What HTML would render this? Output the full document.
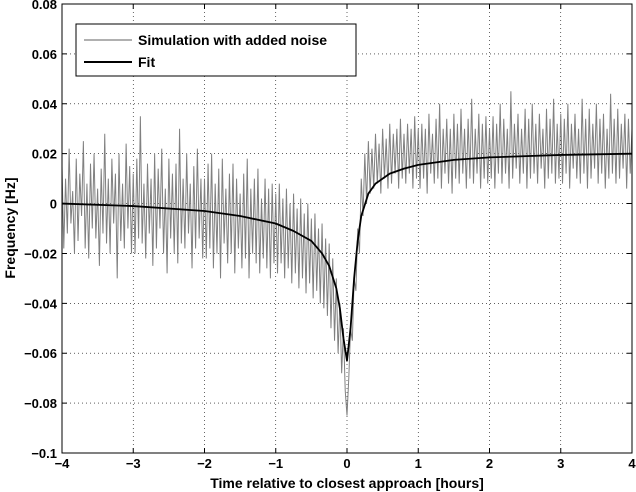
<!DOCTYPE html>
<html><head><meta charset="utf-8"><style>
body{margin:0;background:#fff}
svg{display:block;font-family:"Liberation Sans",Arial,sans-serif;font-weight:bold}
</style></head><body>
<svg id="chart" width="636" height="492" viewBox="0 0 636 492" xmlns="http://www.w3.org/2000/svg">
<rect x="0" y="0" width="636" height="492" fill="#fff"/>
<g id="grid"></g>
<g id="series"></g>
<rect x="62" y="4" width="570" height="449" fill="none" stroke="#000" stroke-width="1"/>
<g id="axes"></g>
<text x="347" y="488" font-size="14" text-anchor="middle">Time relative to closest approach [hours]</text>
<text transform="translate(15,228) rotate(-90)" font-size="14" text-anchor="middle">Frequency [Hz]</text>
<g>
<rect x="76" y="24" width="280" height="52" fill="#fff" stroke="#000" stroke-width="1"/>
<line x1="84" y1="40" x2="132" y2="40" stroke="#808080" stroke-width="1.2"/>
<text x="138" y="45" font-size="14">Simulation with added noise</text>
<line x1="84" y1="62" x2="132" y2="62" stroke="#000" stroke-width="2"/>
<text x="138" y="67" font-size="14">Fit</text>
</g>
</svg>
<script>
const xTicks=[-4,-3,-2,-1,0,1,2,3,4];
const xTickLabels=["\u22124","\u22123","\u22122","\u22121","0","1","2","3","4"];
const yTicks=[-0.1,-0.08,-0.06,-0.04,-0.02,0,0.02,0.04,0.06,0.08];
const yTickLabels=["\u22120.1","\u22120.08","\u22120.06","\u22120.04","\u22120.02","0","0.02","0.04","0.06","0.08"];
const fitT=[-4,-3,-2,-1.5,-1,-0.75,-0.5,-0.35,-0.25,-0.15,-0.1,-0.05,0,0.05,0.1,0.15,0.2,0.3,0.4,0.6,0.8,1,1.5,2,3,4];
const fitV=[0,-0.001,-0.003,-0.005,-0.008,-0.011,-0.015,-0.02,-0.025,-0.034,-0.042,-0.054,-0.063,-0.05,-0.03,-0.015,-0.005,0.004,0.008,0.012,0.014,0.0155,0.0175,0.0185,0.0195,0.02];
const noiseStart=-4, noiseStep=0.025;
const noiseV=[
0.015,-0.018,0.01,-0.012,0.022,-0.008,0.005,-0.02,0.018,-0.015,0.012,-0.005,0.025,-0.018,0.008,-0.022,0.016,-0.01,0.02,-0.014,0.006,-0.025,0.014,-0.012,0.028,-0.016,0.01,-0.02,0.018,-0.008,0.012,-0.03,0.02,-0.015,0.008,-0.018,0.024,-0.01,0.015,-0.02,
0.012,-0.02,0.018,-0.014,0.035,-0.016,0.008,-0.022,0.016,-0.012,0.01,-0.025,0.02,-0.018,0.014,-0.01,0.022,-0.02,0.006,-0.028,0.018,-0.014,0.012,-0.02,0.016,-0.024,0.03,-0.016,0.01,-0.018,0.02,-0.012,0.008,-0.026,0.015,-0.018,0.022,-0.014,0.01,-0.022,
0.01,-0.022,0.016,-0.018,0.02,-0.026,0.008,-0.02,0.014,-0.03,0.018,-0.016,0.006,-0.024,0.012,-0.02,0.016,-0.028,0.01,-0.018,0.004,-0.026,0.012,-0.022,0.018,-0.03,0.006,-0.02,0.01,-0.024,0.014,-0.028,0.002,-0.022,0.01,-0.026,0.006,-0.03,0.008,-0.024,
0.004,-0.028,0.008,-0.024,0.002,-0.03,0.006,-0.026,0,-0.032,0.004,-0.028,-0.002,-0.034,0.002,-0.03,-0.004,-0.036,0,-0.032,-0.006,-0.038,-0.004,-0.035,-0.01,-0.04,-0.008,-0.042,-0.014,-0.045,-0.016,-0.05,-0.022,-0.055,-0.03,-0.06,-0.04,-0.068,-0.05,-0.075,
-0.085,
-0.07,-0.05,-0.055,-0.03,-0.035,-0.01,-0.02,0.01,-0.005,0.02,0.0,0.025,0.004,0.022,0.006,0.028,0.008,0.024,0.004,0.03,0.01,0.026,0.006,0.032,0.008,0.028,0.012,0.03,0.006,0.034,0.01,0.028,0.008,0.032,0.012,0.03,0.006,0.035,0.01,0.03,
0.006,0.032,0.01,0.03,0.004,0.036,0.012,0.028,0.008,0.034,0.01,0.04,0.006,0.03,0.012,0.034,0.008,0.03,0.004,0.036,0.01,0.032,0.008,0.038,0.012,0.03,0.006,0.034,0.01,0.042,0.008,0.03,0.012,0.036,0.006,0.032,0.01,0.035,0.008,0.03,
0.01,0.035,0.006,0.032,0.012,0.04,0.008,0.034,0.012,0.03,0.006,0.045,0.01,0.032,0.014,0.036,0.008,0.03,0.012,0.038,0.006,0.034,0.01,0.04,0.012,0.032,0.008,0.036,0.014,0.03,0.006,0.038,0.01,0.034,0.012,0.042,0.008,0.032,0.01,0.036,
0.008,0.034,0.012,0.04,0.006,0.032,0.014,0.036,0.01,0.03,0.008,0.042,0.012,0.034,0.006,0.038,0.01,0.032,0.014,0.04,0.008,0.034,0.012,0.036,0.006,0.03,0.01,0.044,0.012,0.034,0.008,0.038,0.01,0.032,0.014,0.036,0.006,0.034,0.012,0.03];
const L=62,R=632,T=4,B=453;
const xs=t=>L+(t+4)/8*(R-L);
const ys=v=>T+(0.08-v)/0.18*(B-T);
const NS="http://www.w3.org/2000/svg";
const mk=(tag,attrs,parent)=>{const e=document.createElementNS(NS,tag);for(const k in attrs)e.setAttribute(k,attrs[k]);parent.appendChild(e);return e;};
const grid=document.getElementById('grid'),axes=document.getElementById('axes'),series=document.getElementById('series');
xTicks.forEach((t,i)=>{const x=xs(t);
 if(i>0&&i<xTicks.length-1){const g=mk('line',{x1:x,y1:T,x2:x,y2:B,stroke:'#000','stroke-width':0.6,'stroke-dasharray':'1,3'},grid);
 
 }
 const tk=mk('path',{d:`M${x},${B}v-5M${x},${T}v5`,stroke:'#000'},axes);
 
 
 const lb=mk('text',{x:x,y:B+15,'font-size':13,'text-anchor':'middle'},axes);lb.textContent=xTickLabels[i];
 
 });
yTicks.forEach((v,i)=>{const y=ys(v);
 if(i>0&&i<yTicks.length-1){const g=mk('line',{x1:L,y1:y,x2:R,y2:y,stroke:'#000','stroke-width':0.6,'stroke-dasharray':'1,3'},grid);
 
 }
 const tk=mk('path',{d:`M${L},${y}h5M${R},${y}h-5`,stroke:'#000'},axes);
 
 
 const lb=mk('text',{x:L-5,y:y+5,'font-size':13,'text-anchor':'end'},axes);lb.textContent=yTickLabels[i];
 
 });
const np=mk('polyline',{points:noiseV.map((v,i)=>xs(noiseStart+i*noiseStep)+','+ys(v)).join(' '),fill:'none',stroke:'#808080','stroke-width':1},series);


const fp=mk('polyline',{points:fitT.map((t,i)=>xs(t)+','+ys(fitV[i])).join(' '),fill:'none',stroke:'#000','stroke-width':1.8,'stroke-linejoin':'round'},series);


</script>
</body></html>
